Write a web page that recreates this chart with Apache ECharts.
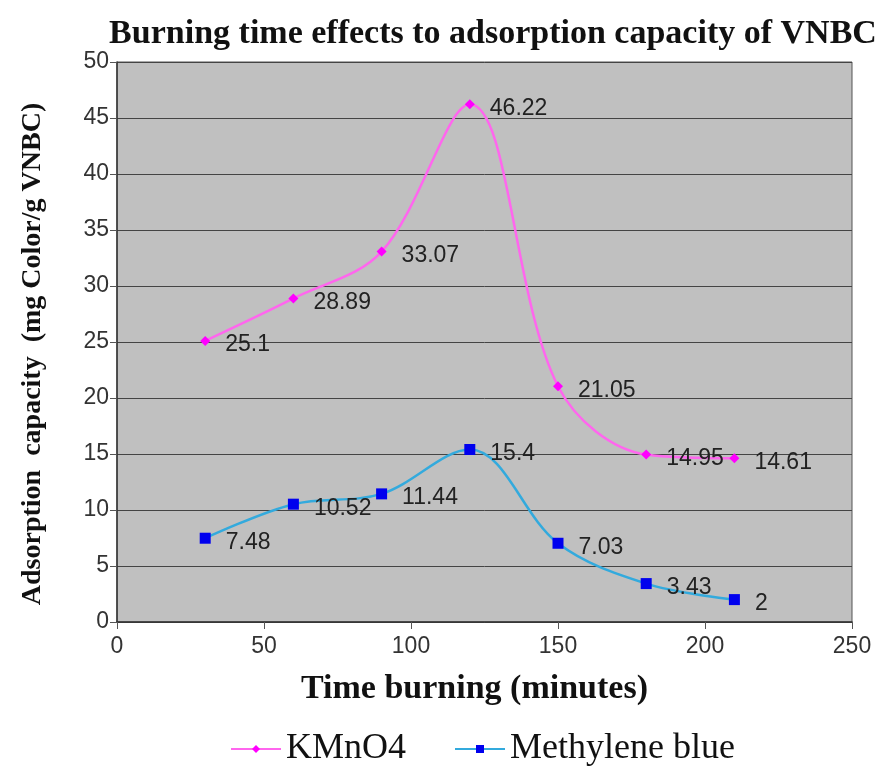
<!DOCTYPE html>
<html>
<head>
<meta charset="utf-8">
<script src="https://cdn.jsdelivr.net/npm/echarts@6/dist/echarts.min.js"></script>
<style>
  html, body { margin: 0; padding: 0; background: #fff; }
  #chart { width: 882px; height: 769px; }
</style>
</head>
<body>
<div id="chart"></div>
<script>
const times = [30, 60, 90, 120, 150, 180, 210];
const kmno4 = [25.1, 28.89, 33.07, 46.22, 21.05, 14.95, 14.61];
const methyleneBlue = [7.48, 10.52, 11.44, 15.4, 7.03, 3.43, 2];

const chart = echarts.init(document.getElementById('chart'));

function pairs (ys) {
  return times.map((t, i) => [t, ys[i]]);
}

const labelStyle = {
  show: true,
  position: 'right',
  offset: [10, 4],
  color: '#222',
  fontFamily: 'Liberation Sans, Arial',
  fontSize: 23
};

const option = {
  backgroundColor: '#fff',
  animation: false,
  title: {
    text: 'Burning time effects to adsorption capacity of VNBC',
    left: 488,
    top: 12,
    textAlign: 'center',
    textStyle: {
      fontFamily: 'Liberation Serif, Times New Roman',
      fontWeight: 'bold',
      fontSize: 34,
      color: '#111'
    }
  },
  legend: {
    top: 726,
    left: 225,
    itemWidth: 50,
    itemHeight: 10,
    itemGap: 48,
    textStyle: {
      fontFamily: 'Liberation Serif, Times New Roman',
      fontSize: 36,
      color: '#111'
    },
    data: ['KMnO4', 'Methylene blue']
  },
  grid: {
    left: 117,
    right: 30,
    top: 62,
    bottom: 147,
    show: true,
    backgroundColor: '#c0c0c0',
    borderColor: '#555',
    borderWidth: 1
  },
  xAxis: {
    type: 'value',
    min: 0,
    max: 250,
    interval: 50,
    name: 'Time burning (minutes)',
    nameLocation: 'middle',
    nameGap: 50,
    nameTextStyle: {
      fontFamily: 'Liberation Serif, Times New Roman',
      fontWeight: 'bold',
      fontSize: 34,
      color: '#111',
      padding: [0, 20, 0, 0]
    },
    axisLine: { show: true, lineStyle: { color: '#333', width: 1.5 } },
    axisTick: { show: true, length: 7, lineStyle: { color: '#555' } },
    axisLabel: {
      fontFamily: 'Liberation Sans, Arial',
      fontSize: 23,
      color: '#333',
      margin: 13
    },
    splitLine: { show: false }
  },
  yAxis: {
    type: 'value',
    min: 0,
    max: 50,
    interval: 5,
    name: 'Adsorption  capacity  (mg Color/g VNBC)',
    nameLocation: 'middle',
    nameGap: 70,
    nameTextStyle: {
      fontFamily: 'Liberation Serif, Times New Roman',
      fontWeight: 'bold',
      fontSize: 28,
      color: '#111',
      padding: [0, 24, 0, 0]
    },
    axisLine: { show: true, lineStyle: { color: '#333', width: 1.5 } },
    axisTick: { show: true, length: 7, lineStyle: { color: '#555' } },
    axisLabel: {
      fontFamily: 'Liberation Sans, Arial',
      fontSize: 23,
      color: '#333',
      margin: 8
    },
    splitLine: { show: true, lineStyle: { color: '#444', width: 1 } }
  },
  series: [
    {
      name: 'KMnO4',
      type: 'line',
      smooth: 0.35,
      data: pairs(kmno4),
      symbol: 'diamond',
      symbolSize: 10,
      itemStyle: { color: '#ff00ff' },
      lineStyle: { color: '#ff66ee', width: 2.5 },
      label: labelStyle
    },
    {
      name: 'Methylene blue',
      type: 'line',
      smooth: 0.35,
      data: pairs(methyleneBlue),
      symbol: 'rect',
      symbolSize: 11,
      itemStyle: { color: '#0000ee' },
      lineStyle: { color: '#33aadd', width: 2.5 },
      label: labelStyle
    }
  ]
};

chart.setOption(option);
</script>
</body>
</html>
